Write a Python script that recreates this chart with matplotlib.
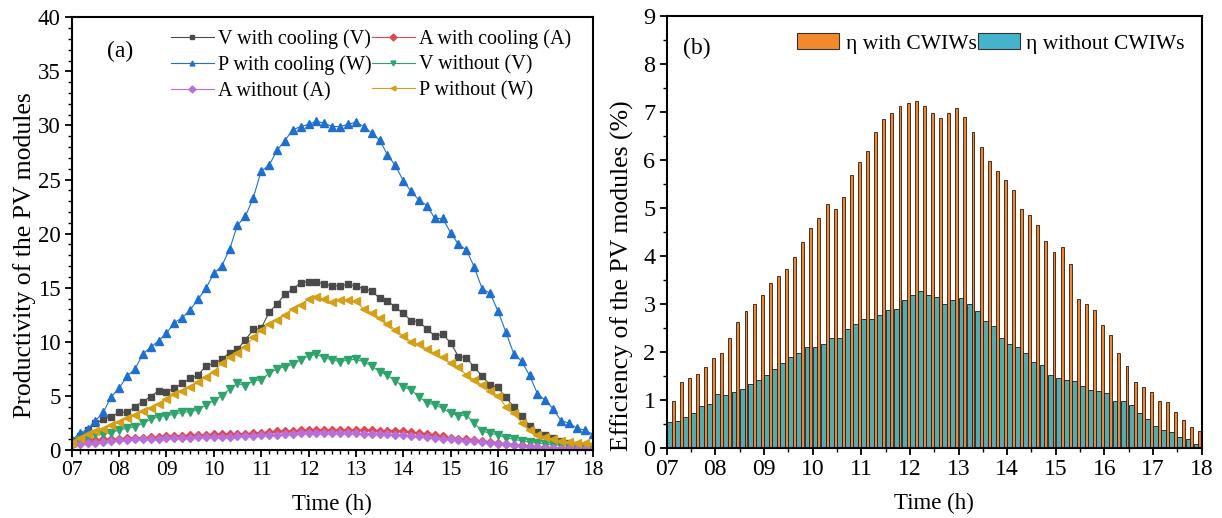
import numpy as np
import matplotlib
matplotlib.use("Agg")
import matplotlib.pyplot as plt
from matplotlib.ticker import MultipleLocator, FixedLocator
from matplotlib.patches import Patch
from matplotlib.lines import Line2D

plt.rcParams['font.family'] = ['Liberation Serif', 'DejaVu Serif']

# ---------------- data: panel (a), every 10 min from 07:00 to 18:00 ----------------
hours_a = np.arange(67) / 6.0 + 7.0  # time axis (h)

v_cool = [0.8, 1.3, 1.85, 2.46, 2.83, 3.08,
          3.48, 3.48, 4.0, 4.47, 4.93, 5.48,
          5.39, 5.7, 6.16, 6.62, 6.93, 7.76,
          8.01, 8.38, 9.0, 9.33, 10.17, 11.15,
          11.24, 12.72, 13.49, 14.39, 14.88, 15.47,
          15.56, 15.56, 15.31, 15.19, 15.19, 15.31,
          15.19, 14.88, 14.73, 14.02, 13.8, 13.19,
          12.63, 11.95, 11.86, 11.18, 10.54, 10.69,
          9.92, 8.63, 8.53, 7.64, 6.84, 6.0,
          5.79, 4.87, 4.0, 3.14, 2.25, 1.69,
          1.39, 1.08, 0.86, 0.62, 0.46, 0.31,
          0.25]

a_cool = [0.80, 0.85, 0.90, 0.93, 0.97, 1.00,
          1.05, 1.08, 1.12, 1.15, 1.18, 1.22,
          1.28, 1.30, 1.33, 1.36, 1.40, 1.42,
          1.45, 1.46, 1.48, 1.50, 1.52, 1.55,
          1.60, 1.68, 1.72, 1.75, 1.78, 1.82,
          1.85, 1.88, 1.86, 1.84, 1.85, 1.86,
          1.85, 1.83, 1.82, 1.80, 1.78, 1.76,
          1.73, 1.65, 1.58, 1.50, 1.40, 1.25,
          1.15, 1.05, 1.00, 0.92, 0.85, 0.75,
          0.65, 0.58, 0.50, 0.42, 0.36, 0.30,
          0.25, 0.22, 0.18, 0.15, 0.13, 0.11,
          0.10]

p_cool = [0.9, 1.54, 1.94, 2.71, 3.48, 4.93,
          5.7, 6.84, 7.45, 8.87, 9.49, 10.1,
          10.78, 11.77, 12.23, 12.94, 13.93, 14.94,
          16.33, 17.0, 18.55, 20.8, 21.6, 23.3,
          25.8, 26.3, 27.7, 28.6, 29.6, 29.9,
          30.1, 30.4, 30.2, 29.9, 29.9, 30.1,
          30.3, 29.9, 29.3, 28.65, 27.3, 26.3,
          24.9, 23.9, 23.1, 22.6, 21.4, 21.4,
          20.1, 19.0, 18.5, 16.9, 14.9, 14.5,
          12.85, 10.9, 8.9, 8.2, 6.9, 5.2,
          4.6, 3.8, 2.7, 2.5, 2.0, 1.85,
          1.45]

v_without = [0.62, 0.92, 1.23, 1.45, 1.45, 1.6,
             1.85, 2.0, 2.16, 2.46, 2.83, 3.08,
             3.17, 3.3, 3.48, 3.54, 3.7, 4.16,
             4.56, 5.02, 5.61, 6.16, 5.92, 6.41,
             6.47, 7.09, 7.49, 7.7, 7.92, 8.32,
             8.69, 8.84, 8.53, 8.32, 8.16, 8.32,
             8.38, 8.16, 7.76, 7.25, 6.9, 6.41,
             5.85, 5.55, 4.93, 4.37, 4.16, 3.85,
             3.39, 3.17, 3.23, 2.46, 1.76, 1.54,
             1.39, 1.14, 0.99, 0.86, 0.71, 0.62,
             0.55, 0.46, 0.43, 0.37, 0.31, 0.31,
             0.25]

a_without = [0.45, 0.55, 0.62, 0.68, 0.75, 0.82,
             0.90, 0.93, 0.97, 1.00, 1.03, 1.06,
             1.08, 1.10, 1.12, 1.14, 1.16, 1.18,
             1.20, 1.22, 1.24, 1.26, 1.28, 1.30,
             1.35, 1.40, 1.43, 1.46, 1.50, 1.53,
             1.55, 1.57, 1.55, 1.54, 1.54, 1.55,
             1.54, 1.52, 1.50, 1.48, 1.45, 1.42,
             1.38, 1.32, 1.26, 1.20, 1.12, 1.05,
             0.98, 0.92, 0.86, 0.80, 0.74, 0.66,
             0.58, 0.52, 0.45, 0.38, 0.32, 0.26,
             0.20, 0.16, 0.13, 0.10, 0.08, 0.06,
             0.05]

p_without = [0.68, 1.08, 1.45, 1.76, 1.94, 2.31,
             2.62, 2.93, 3.23, 3.6, 3.91, 4.25,
             4.68, 5.14, 5.48, 5.85, 6.25, 6.78,
             7.24, 8.01, 8.56, 8.99, 9.55, 10.41,
             11.09, 11.65, 12.01, 12.48, 13.03, 13.4,
             13.93, 14.17, 13.93, 13.65, 13.86, 13.86,
             13.8, 13.0, 12.69, 12.2, 11.65, 11.09,
             10.54, 10.01, 9.77, 9.3, 8.93, 8.56,
             8.01, 7.64, 6.93, 6.47, 6.0, 5.48,
             5.02, 4.0, 3.39, 2.53, 1.85, 1.39,
             1.23, 0.99, 0.86, 0.77, 0.68, 0.62,
             0.55]

# ---------------- data: panel (b), every 10 min from 07:00 to 17:50 ----------------
hours_b = np.arange(66) / 6.0 + 7.0

eta_with = [0.99, 1.37, 1.46, 1.55, 1.69, 1.87,
            1.98, 2.29, 2.62, 2.86, 3.0, 3.19,
            3.44, 3.58, 3.73, 3.99, 4.29, 4.58,
            4.79, 5.09, 4.99, 5.24, 5.68, 5.97,
            6.18, 6.58, 6.85, 6.98, 7.12, 7.18,
            7.23, 7.13, 6.98, 6.88, 6.98, 7.08,
            6.9, 6.58, 6.28, 5.99, 5.78, 5.59,
            5.37, 4.99, 4.86, 4.64, 4.32, 4.08,
            4.19, 3.84, 3.10, 3.0, 2.88, 2.56,
            2.35, 1.98, 1.72, 1.39, 1.28, 1.18,
            0.99, 0.97, 0.76, 0.59, 0.45, 0.35]

eta_without = [0.54, 0.56, 0.65, 0.73, 0.88, 0.92,
               1.12, 1.10, 1.18, 1.23, 1.33, 1.42,
               1.53, 1.65, 1.77, 1.90, 1.98, 2.10,
               2.10, 2.17, 2.29, 2.29, 2.48, 2.58,
               2.69, 2.69, 2.78, 2.87, 2.90, 3.09,
               3.19, 3.28, 3.19, 3.15, 3.01, 3.09,
               3.12, 3.0, 2.86, 2.66, 2.55, 2.29,
               2.18, 2.10, 1.98, 1.79, 1.73, 1.53,
               1.46, 1.42, 1.40, 1.29, 1.21, 1.19,
               1.15, 0.99, 0.99, 0.90, 0.74, 0.60,
               0.46, 0.38, 0.34, 0.23, 0.19, 0.08]

hour_ticks = list(range(7, 19))
hour_labels = ["07", "08", "09", "10", "11", "12", "13", "14", "15", "16", "17", "18"]

# ---------------- figure ----------------
fig = plt.figure(figsize=(12.22, 5.18), dpi=100)
ax1 = fig.add_axes([0.0587, 0.1313, 0.4263, 0.8353])
ax2 = fig.add_axes([0.5456, 0.1346, 0.4378, 0.8346])

series = [
    (v_cool, 'V with cooling (V)', '#4a4a4a', 's', 4.4),
    (a_cool, 'A with cooling (A)', '#e04850', 'D', 3.8),
    (p_cool, 'P with cooling (W)', '#1f6fd0', '^', 5.4),
    (v_without, 'V without (V)', '#2ea36c', 'v', 5.4),
    (a_without, 'A without (A)', '#b86fd8', 'D', 3.8),
    (p_without, 'P without (W)', '#d4a017', '<', 5.4),
]
handles = {}
for vals, lab, col, mk, ms in series:
    ln, = ax1.plot(hours_a, vals, color=col, marker=mk, markersize=ms,
                   linewidth=0.8, label=lab)
    handles[lab] = ln

order = ['V with cooling (V)', 'P with cooling (W)', 'A without (A)',
         'A with cooling (A)', 'V without (V)', 'P without (W)']
leg_a_handles = []
for k in order:
    h = handles[k]
    leg_a_handles.append(Line2D([], [], color=h.get_color(), marker=h.get_marker(),
                                markersize=3.5, linewidth=0.8))
ax1.legend(leg_a_handles, order, ncol=2, frameon=False,
           loc='upper left', bbox_to_anchor=(0.168, 1.0), fontsize=14.5,
           handlelength=2.1, handletextpad=0.2, columnspacing=0.05,
           labelspacing=0.32, borderaxespad=0.2)

ax1.set_xlim(7, 18)
ax1.set_ylim(0, 40)
ax1.xaxis.set_major_locator(FixedLocator(hour_ticks))
ax1.set_xticklabels(hour_labels)
ax1.xaxis.set_minor_locator(MultipleLocator(1 / 6))
ax1.yaxis.set_major_locator(MultipleLocator(5))
ax1.yaxis.set_minor_locator(MultipleLocator(1))
ax1.set_xlabel('Time (h)', fontsize=16.5, labelpad=10)
ax1.set_ylabel('Productivity of the PV modules', fontsize=18.5)
ax1.yaxis.set_label_coords(-0.069, 0.45)
ax1.text(0.068, 0.945, '(a)', transform=ax1.transAxes, fontsize=17, va='top')

# ---------------- panel (b) ----------------
period = 1 / 6
w_cyan = period * 0.60
w_orange = period * 0.36
ax2.bar(hours_b, eta_without, width=w_cyan, align='edge', color='#4fadb8',
        edgecolor='#1a1a1a', linewidth=0.6, zorder=2)
ax2.bar(hours_b + w_cyan, eta_with, width=w_orange, align='edge', color='#ee8530',
        edgecolor='#2a1a10', linewidth=0.6, zorder=2)

leg_handles = [Patch(facecolor='#f08a2c', edgecolor='#333333', linewidth=0.8),
               Patch(facecolor='#45b3cc', edgecolor='#333333', linewidth=0.8)]
leg_labels = ['η with CWIWs', 'η without CWIWs']
ax2.legend(leg_handles, leg_labels, ncol=2, frameon=False, loc='upper right',
           bbox_to_anchor=(1.0, 1.0), fontsize=15.5, handlelength=1.95,
           handleheight=0.78, handletextpad=0.3, columnspacing=0.05,
           borderaxespad=0.4)

ax2.set_xlim(7, 18)
ax2.set_ylim(0, 9)
ax2.xaxis.set_major_locator(FixedLocator(hour_ticks))
ax2.set_xticklabels(hour_labels)
ax2.xaxis.set_minor_locator(MultipleLocator(0.5))
ax2.yaxis.set_major_locator(MultipleLocator(1))
ax2.yaxis.set_minor_locator(MultipleLocator(0.5))
ax2.set_xlabel('Time (h)', fontsize=16.5, labelpad=9)
ax2.set_ylabel('Efficiency of the PV modules (%)', fontsize=18.5)
ax2.yaxis.set_label_coords(-0.061, 0.40)
ax2.text(0.03, 0.95, '(b)', transform=ax2.transAxes, fontsize=17, va='top')

for ax, xfs, yfs in ((ax1, 15.5, 16.5), (ax2, 17, 17.5)):
    for sp in ax.spines.values():
        sp.set_linewidth(1.5)
    ax.tick_params(which='major', direction='out', length=5, width=1.3,
                   top=False, right=False, pad=3)
    ax.tick_params(axis='x', which='major', labelsize=xfs)
    ax.tick_params(axis='y', which='major', labelsize=yfs)
    ax.tick_params(which='minor', direction='out', length=3, width=1.0,
                   top=False, right=False)

fig.savefig('out.png', dpi=100)
